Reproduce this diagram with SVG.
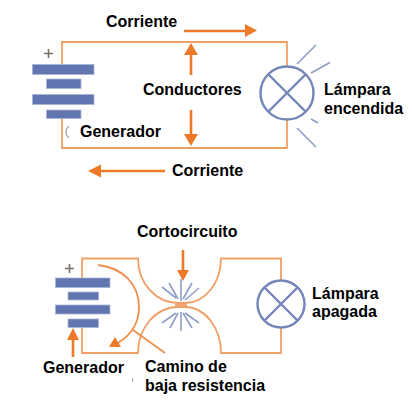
<svg xmlns="http://www.w3.org/2000/svg" width="412" height="405" viewBox="0 0 412 405">
<style>
.w{fill:none;stroke:#f0a066;stroke-width:1.8}
.c{fill:none;stroke:#ee9050;stroke-width:1.8}
.a{fill:none;stroke:#ec7a28;stroke-width:2.6}
.h{fill:#ec7a28;stroke:none}
.p{fill:#6175b0;stroke:#a9b5d6;stroke-width:.8}
.l{fill:none;stroke:#7485b8;stroke-width:2.4}
.r{fill:none;stroke:#8f9ec8;stroke-width:1.6}
.plus{fill:none;stroke:#7a7068;stroke-width:1.6}
text{font-family:"Liberation Sans",Arial,sans-serif;font-weight:bold;font-size:16px;fill:#000}
</style>
<rect width="412" height="405" fill="#fff"/>
<g id="connectors">
<path class="w" d="M62 64V42H287V66M62 118V148H287V120"/>
<path class="w" d="M82 278V258.500H138A40 44.500 0 0 0 178 303H185A36 44.500 0 0 0 221 258.500H281V280M82 328V353H138A40 46 0 0 1 178 307H185A36 46 0 0 1 221 353H281V328"/>
<path class="w" d="M175 305H187"/>
<path class="c" d="M98 265C124 268 139 285 139 307C139 323 131 335 118 343"/>
<path class="c" d="M133 330L165 353"/>
<path class="a" d="M184 31H246"/><path class="h" d="M245 24L257 30.500L245 37Z"/>
<path class="a" d="M165 171H100"/><path class="h" d="M101 164.500L88 171L101 177.500Z"/>
<path class="a" d="M191 75V54"/><path class="h" d="M184 55L191 43L198 55Z"/>
<path class="a" d="M191 110V135"/><path class="h" d="M184 134L191 146L198 134Z"/>
<path class="a" d="M73 357V339"/><path class="h" d="M67 340L73 328L79 340Z"/>
<path class="a" d="M183 250V271"/><path class="h" d="M177 270L183 281L189 270Z"/>
<path class="h" d="M109 347L115 337L121 347Z"/>
</g>
<g id="generador-1">
<path class="plus" d="M44 53.500H53M48.500 49V58"/>
<rect class="p" x="32.500" y="64.500" width="61.500" height="10"/>
<rect class="p" x="46.500" y="79" width="34.500" height="9.500"/>
<rect class="p" x="32.500" y="94.500" width="61.500" height="10"/>
<rect class="p" x="46.500" y="110" width="34.500" height="8.500"/>
<path d="M69 126C65 129 65 135 69 138" fill="none" stroke="#aaa" stroke-width="1.200"/>
<text x="80" y="137">Generador</text>
</g>
<g id="lampara-1">
<circle class="l" cx="287" cy="93" r="26.500"/>
<path class="l" d="M268 74L306 112M306 74L268 112"/>
<path class="r" d="M297 64L316 45M311 73L330 62.500M311 119L318 123M297 128L316 147"/>
<text x="324" y="95">Lámpara</text>
<text x="324" y="114">encendida</text>
</g>
<g id="labels-1">
<text x="106" y="27">Corriente</text>
<text x="143" y="95">Conductores</text>
<text x="172" y="176">Corriente</text>
</g>
<g id="generador-2">
<path class="plus" d="M65 268.500H74M69.500 264V273"/>
<rect class="p" x="55.500" y="278" width="54.500" height="9.500"/>
<rect class="p" x="68" y="292" width="30.500" height="8"/>
<rect class="p" x="55.500" y="305" width="54.500" height="9"/>
<rect class="p" x="68" y="319" width="30.500" height="8.500"/>
<text x="43" y="373">Generador</text>
</g>
<g id="cortocircuito">
<path class="r" d="M181 279V301M162 287L176 298M169 283L178 299M192 283L183 299M199 288L185 300M181 312V331M176 313L162 323M178 313L170 328M183 313L192 328M185 313L199 323"/>
<text x="137" y="237">Cortocircuito</text>
</g>
<g id="lampara-2">
<circle class="l" cx="281" cy="304" r="23.500"/>
<path class="l" d="M265 288L297 320M297 288L265 320"/>
<text x="312" y="299">Lámpara</text>
<text x="312" y="317">apagada</text>
</g>
<g id="camino">
<text x="145" y="372">Camino de</text>
<text x="145" y="391">baja resistencia</text>
<path d="M132.500 378V381H134" fill="none" stroke="#999" stroke-width=".8"/>
</g>
</svg>
